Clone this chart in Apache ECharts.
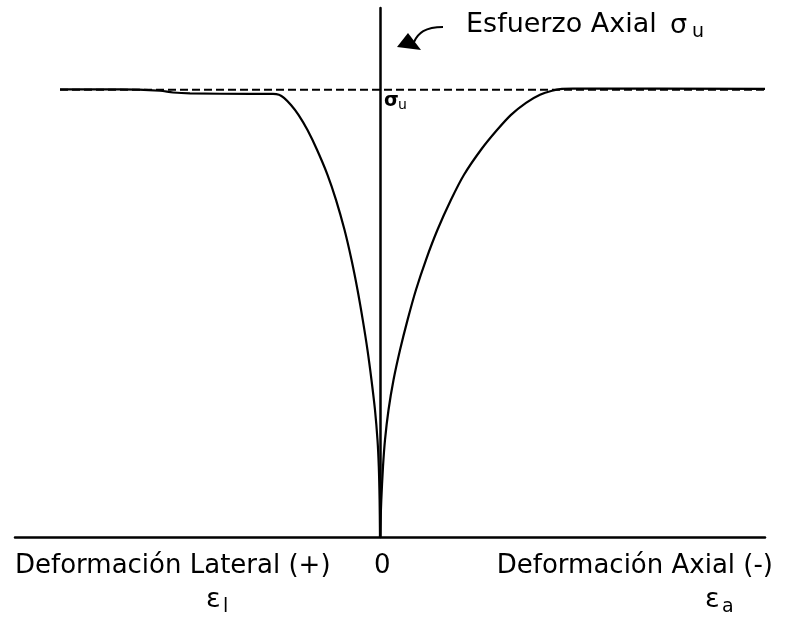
<!DOCTYPE html>
<html>
<head>
<meta charset="utf-8">
<script src="https://cdn.jsdelivr.net/npm/echarts@6/dist/echarts.min.js"></script>
<style>
  html, body { margin: 0; padding: 0; background: #fff; }
  #chart { width: 790px; height: 618px; }
</style>
</head>
<body>
<div id="chart"></div>
<script>
// curva lateral (izquierda) y axial (derecha), esfuerzo en % de sigma_u
const lateralX = [0, -0.04, -0.12, -0.25, -0.5, -0.85, -1.25, -1.72, -2.25, -2.85, -3.55, -4.4, -5.25, -6.3, -7.25, -8.15, -8.9, -9.6, -10.1, -10.7, -13, -19, -20.7, -22, -26, -32]
const lateralY = [0, 8.3, 15.7, 21.7, 28.4, 35.1, 41.8, 48.5, 55.3, 62.0, 68.7, 75.4, 81.0, 86.6, 91.0, 94.4, 96.6, 98.2, 98.9, 99.1, 99.1, 99.2, 99.4, 99.8, 100.1, 100.1]
const axialX = [0, 0.13, 0.3, 0.5, 0.85, 1.35, 2.0, 2.75, 3.6, 4.6, 5.75, 7.1, 8.4, 10.1, 11.7, 13.1, 14.6, 16.0, 17.2, 18.2, 19.3, 38.5]
const axialY = [0, 8.3, 15.7, 21.7, 28.4, 35.1, 41.8, 48.5, 55.3, 62.0, 68.7, 75.4, 81.0, 86.6, 91.0, 94.4, 97.1, 98.9, 99.8, 100.2, 100.3, 100.2]
const sigmaU = 100
const sigmaLineX = [-32, 38.5]

const chartDom = document.getElementById('chart')
const myChart = echarts.init(chartDom)

function txt(text, left, top, size, weight) {
  return {
    type: 'text', left: left, top: top,
    style: {text: text, fontSize: size, fontWeight: weight || 'normal', fontFamily: 'DejaVu Sans', fill: '#000'}
  }
}

let option = {
  animation: false,
  grid: {left: 15, right: 25, top: 8, bottom: 81},
  xAxis: {
    type: 'value',
    min: -36.5,
    max: 38.5,
    axisLine: {onZero: true, lineStyle: {color: '#000', width: 2.5}},
    axisTick: {show: false},
    axisLabel: {show: false},
    splitLine: {show: false}
  },
  yAxis: {
    type: 'value',
    min: 0,
    max: 118.3,
    axisLine: {show: true, onZero: true, lineStyle: {color: '#000', width: 2.5}},
    axisTick: {show: false},
    axisLabel: {show: false},
    splitLine: {show: false}
  },
  series: [{
    type: 'line',
    data: sigmaLineX.map(x => [x, sigmaU]),
    symbol: 'none',
    lineStyle: {color: '#000', width: 2, type: [8, 4]},
    z: 1
  }, {
    type: 'line',
    data: lateralX.map((x, i) => [x, lateralY[i]]),
    symbol: 'none',
    smooth: 0.3,
    lineStyle: {color: '#000', width: 2.2},
    z: 2
  }, {
    type: 'line',
    data: axialX.map((x, i) => [x, axialY[i]]),
    symbol: 'none',
    smooth: 0.3,
    lineStyle: {color: '#000', width: 2.2},
    z: 2
  }],
  graphic: [
    txt('Esfuerzo Axial', 466, 11, 27),
    txt('σ', 670, 12, 27),
    txt('u', 692, 23, 19),
    // flecha curva
    {type: 'bezierCurve', shape: {x1: 443, y1: 27, x2: 414, y2: 42, cpx1: 425, cpy1: 27, cpx2: 418, cpy2: 33}, style: {stroke: '#000', lineWidth: 2, fill: null}},
    {type: 'polygon', shape: {points: [[397, 47], [408, 33], [421, 50]]}, style: {fill: '#000'}},
    txt('σ', 384, 92, 19, 'bold'),
    txt('u', 398, 98, 14),
    txt('Deformación Lateral (+)', 15, 553, 26),
    txt('0', 374, 553, 26),
    {type: 'text', right: 17, top: 553, style: {text: 'Deformación Axial (-)', fontSize: 26, fontFamily: 'DejaVu Sans', fill: '#000'}},
    txt('ε', 206, 586, 27),
    txt('l', 223, 598, 19),
    txt('ε', 705, 586, 27),
    txt('a', 722, 598, 19)
  ]
}
option && myChart.setOption(option)
</script>
</body>
</html>
